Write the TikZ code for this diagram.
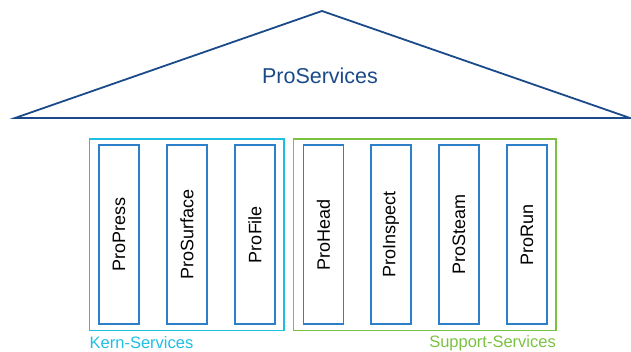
\documentclass[tikz,border=0pt]{standalone}
\usepackage{fontspec}
\setmainfont{Liberation Sans}
\usepackage{tikz}

\definecolor{roofblue}{HTML}{1B4A8A}
\definecolor{kerncyan}{HTML}{1EBFE3}
\definecolor{suppgreen}{HTML}{7CC242}
\definecolor{modblue}{HTML}{2E7FC9}

\tikzset{
	modbox/.style={draw=modblue, line width=1.5pt, rotate=90, minimum width=179pt, minimum height=40pt, inner sep=0pt, font=\fontsize{18}{20}\selectfont},
	groupbox/.style={line width=1.5pt, inner sep=0pt},
	grouplabel/.style={font=\fontsize{16.5}{18}\selectfont, inner sep=0pt}
}

\begin{document}
\begin{tikzpicture}[x=1pt, y=-1pt]
		\useasboundingbox (0, 0) rectangle (631, 352);
		% roof
		\coordinate (roofleft) at (15, 118);
		\coordinate (roofright) at (630, 118);
		\coordinate (apex) at (322, 11);
		\draw[roofblue, line width=1.8pt, line join=miter] (roofleft) -- (apex) -- (roofright) -- cycle;
		\node[roofblue, font=\fontsize{21.5}{24}\selectfont] (proservices) at (320, 76) {ProServices};
		% groups
		\draw[kerncyan, groupbox] (89.5, 139) rectangle (284, 330.5);
		\draw[suppgreen, groupbox] (293.5, 139) rectangle (556, 330.5);
		\node[kerncyan, grouplabel, anchor=west] (kernlabel) at (89.5, 343) {Kern-Services};
		\node[suppgreen, grouplabel, anchor=east] (supportlabel) at (556, 343) {Support-Services};
		% modules
		\foreach \x/\name in {119/ProPress, 187/ProSurface, 255/ProFile, 323.5/ProHead, 391/ProInspect, 459/ProSteam, 527/ProRun}
			\node[modbox] (\name) at (\x, 234.5) {\name};
	\end{tikzpicture}
\end{document}
